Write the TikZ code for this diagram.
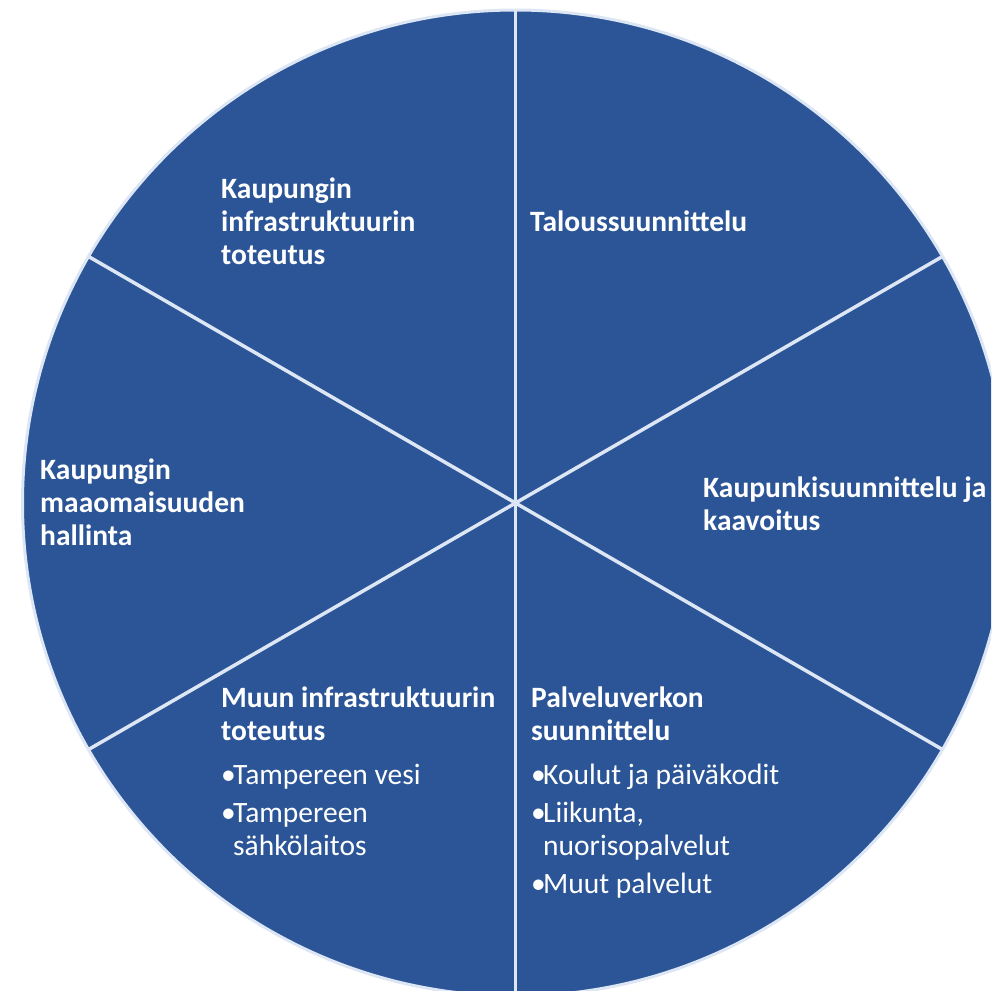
\documentclass[tikz,border=0pt]{standalone}
\usepackage{fontspec}
\setmainfont{Carlito}
\usetikzlibrary{calc}
\definecolor{pieblue}{HTML}{2B5597}
\definecolor{seplight}{HTML}{DCE6F4}
\newcommand{\bul}{\makebox[12pt][l]{•}}
\newcommand{\ind}{\hspace*{12pt}}
\begin{document}
\begin{tikzpicture}[x=1pt,y=-1pt,
  sep/.style={draw=seplight, line width=3.5pt},
  rim/.style={draw=seplight, line width=3pt},
  txt/.style={anchor=base west, align=left, text=white, inner sep=0pt,
    font=\fontsize{29.5}{33}\selectfont}]
\useasboundingbox (0,0) rectangle (991,991);
\clip (0,0) rectangle (991,991);
\coordinate (c) at (515.5,503);
\fill[pieblue] (c) circle[radius=493];
\foreach \a in {30,90,150,210,270,330}{
  \coordinate (p\a) at ($(c)+(\a:493)$);
  \draw[sep] (c) -- (p\a);
}
\draw[rim] (c) circle[radius=493];
% texts (anchor = baseline of last line)
\node[txt] (infra) at (221,264) {\textbf{Kaupungin}\\\textbf{infrastruktuurin}\\\textbf{toteutus}};
\node[txt] (talous) at (530,231) {\textbf{Taloussuunnittelu}};
\node[txt] (maa) at (40,545) {\textbf{Kaupungin}\\\textbf{maaomaisuuden}\\\textbf{hallinta}};
\node[txt] (kaava) at (703,530) {\textbf{Kaupunkisuunnittelu ja}\\\textbf{kaavoitus}};
\node[txt] (muun) at (221,855) {\textbf{Muun infrastruktuurin}\\\textbf{toteutus}\\[11pt]
  \bul Tampereen vesi\\[5pt]
  \bul Tampereen\\\ind sähkölaitos};
\node[txt] (palvelu) at (531,893) {\textbf{Palveluverkon}\\\textbf{suunnittelu}\\[11pt]
  \bul Koulut ja päiväkodit\\[5pt]
  \bul Liikunta,\\\ind nuorisopalvelut\\[5pt]
  \bul Muut palvelut};
\end{tikzpicture}
\end{document}
